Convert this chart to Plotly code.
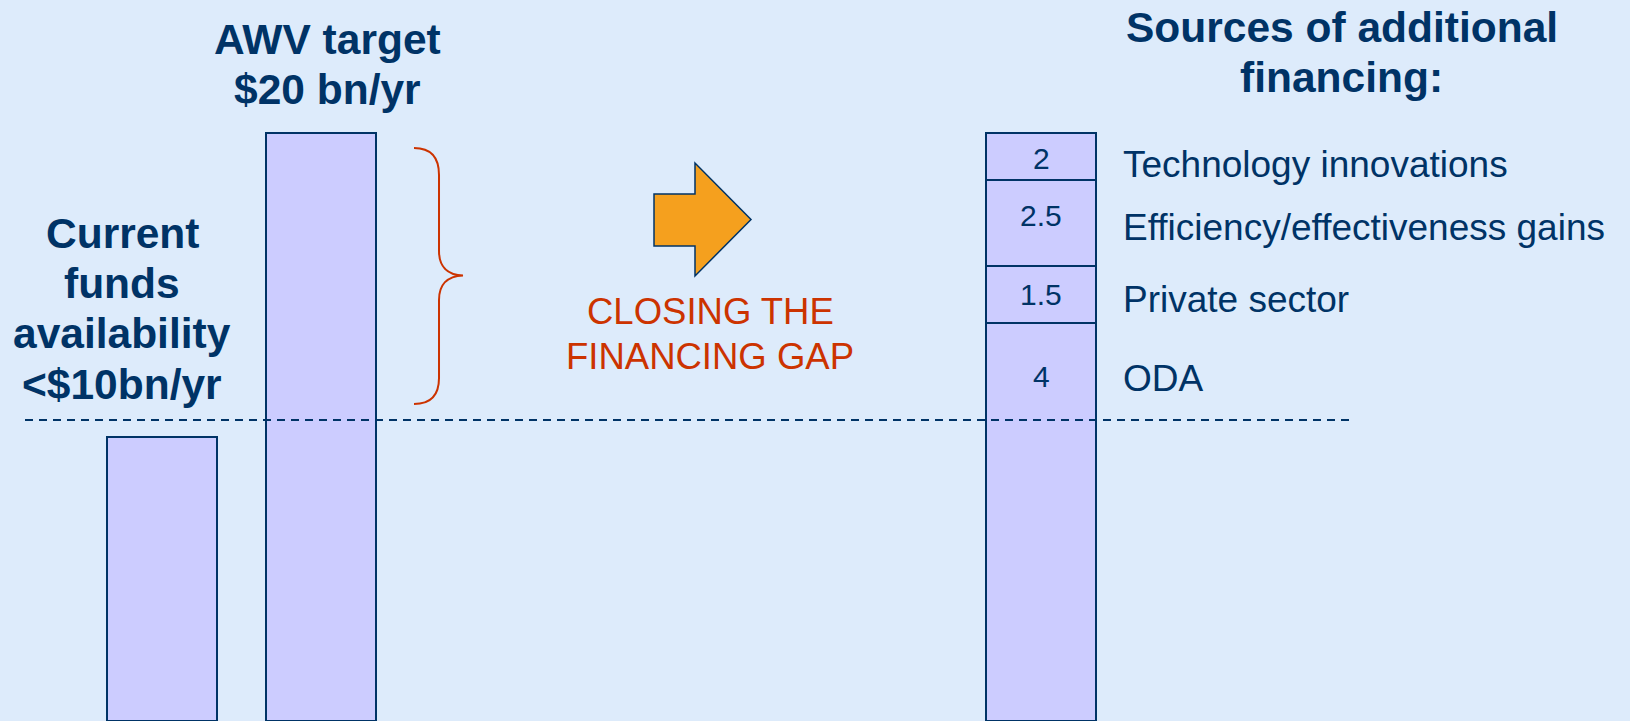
import plotly.graph_objects as go

# ---------------- data ----------------
bar_names = ["Current funds availability", "AWV target"]
bar_values = [9.43, 19.53]            # drawn heights (bn/yr scale of the picture)
gap_base = 10.0                        # current-funds level marked by the dashed line

source_names = ["ODA", "Private sector", "Efficiency/effectiveness gains", "Technology innovations"]
source_heights = [3.21, 1.91, 2.85, 1.56]   # drawn heights of the stacked segments
source_labels = ["4", "1.5", "2.5", "2"]     # printed values (bn/yr)

left_title = ["Current", "funds", "availability", "<$10bn/yr"]
target_title = ["AWV target", "$20 bn/yr"]
sources_title = ["Sources of additional", "financing:"]
gap_text = ["CLOSING THE", "FINANCING GAP"]

# ---------------- layout / style constants ----------------
W, H = 1630, 721
X_MAX, Y_MAX = 16.30, 23.95
bar_x = [1.617, 3.212]
src_x = 10.412
bar_w = 1.10

BG = "#DDEBFB"
NAVY = "#003366"
FILL = "#CCCCFF"
RED = "#CC3300"
ORANGE = "#F5A01E"
FONT = "Liberation Sans, Arial, sans-serif"


def px(x):
    return x / W


def py(y):
    return 1 - y / H


fig = go.Figure()

fig.add_trace(go.Bar(
    x=bar_x, y=bar_values, width=bar_w, name="bars",
    marker=dict(color=FILL, line=dict(color=NAVY, width=2)),
    hoverinfo="skip", showlegend=False,
))

# stacked sources bar; lowest segment includes the current-funds base
for i, (nm, h) in enumerate(zip(source_names, source_heights)):
    val = h + gap_base if i == 0 else h
    fig.add_trace(go.Bar(
        x=[src_x], y=[val], width=bar_w, name=nm,
        marker=dict(color=FILL, line=dict(color=NAVY, width=2)),
        hoverinfo="skip", showlegend=False,
    ))

annotations = []

# segment value labels
seg_shift = [-5, 0, 7, -2]
cum = gap_base
for lab, h, sh in zip(source_labels, source_heights, seg_shift):
    annotations.append(dict(
        x=src_x, y=cum + h / 2, xref="x", yref="y", text=lab, showarrow=False,
        font=dict(family=FONT, size=30, color=NAVY), yshift=sh,
        xanchor="center", yanchor="middle",
    ))
    cum += h

# right-hand labels
label_y = [378.8, 299.5, 227.5, 164.7]
for nm, yy in zip(source_names, label_y):
    annotations.append(dict(
        x=px(1121), y=py(yy), xref="paper", yref="paper", text=nm, showarrow=False,
        font=dict(family=FONT, size=37, color=NAVY), xanchor="left", yanchor="middle",
    ))


def add_lines(lines, cx, baselines, size, color, bold):
    for t, b in zip(lines, baselines):
        annotations.append(dict(
            x=px(cx), y=py(b - 0.35 * size), xref="paper", yref="paper",
            text=f"<b>{t}</b>" if bold else t, showarrow=False,
            font=dict(family=FONT, size=size, color=color),
            xanchor="center", yanchor="middle",
        ))


add_lines(left_title, 122, [248.3, 298.3, 348.3, 399.3], 42.5, NAVY, True)
add_lines(target_title, 327, [54.5, 104.5], 42.5, NAVY, True)
add_lines(sources_title, 1341.5, [42.0, 92.0], 42.5, NAVY, True)
add_lines(gap_text, 710, [324, 369], 36.5, RED, False)


def path_from(cmds):
    out = []
    for c in cmds:
        if isinstance(c, str):
            out.append(c)
        else:
            out.append(f"{px(c[0]):.5f},{py(c[1]):.5f}")
    return " ".join(out)


brace = path_from([
    "M", (414, 148),
    "C", (432, 148), (439, 158), (439, 175),
    "L", (439, 251),
    "C", (439, 266), (447, 275), (463, 275.5),
    "C", (447, 276), (439, 285), (439, 300),
    "L", (439, 378),
    "C", (439, 394), (432, 404), (414, 404),
])

arrow = path_from([
    "M", (654, 194), "L", (695, 194), "L", (695, 163), "L", (751, 219.5),
    "L", (695, 276), "L", (695, 246), "L", (654, 246), "Z",
])

shapes = [
    dict(type="line", xref="paper", yref="y", x0=px(25), x1=px(1349), y0=gap_base, y1=gap_base,
         line=dict(color=NAVY, width=2, dash="8px,6px"), layer="above"),
    dict(type="path", xref="paper", yref="paper", path=brace,
         line=dict(color=RED, width=2)),
    dict(type="path", xref="paper", yref="paper", path=arrow,
         fillcolor=ORANGE, line=dict(color=NAVY, width=1.5)),
]

fig.update_layout(
    width=W, height=H,
    margin=dict(l=0, r=0, t=0, b=0, pad=0),
    paper_bgcolor=BG, plot_bgcolor=BG,
    barmode="stack", bargap=0,
    xaxis=dict(range=[0, X_MAX], visible=False, fixedrange=True),
    yaxis=dict(range=[0, Y_MAX], visible=False, fixedrange=True),
    showlegend=False,
    hovermode=False,
    annotations=annotations,
    shapes=shapes,
)

fig.write_html(
    "out.html",
    config={"displayModeBar": False, "staticPlot": True},
    post_script="document.body.style.margin='0';document.body.style.overflow='hidden';"
                f"document.body.style.background='{BG}';",
)
